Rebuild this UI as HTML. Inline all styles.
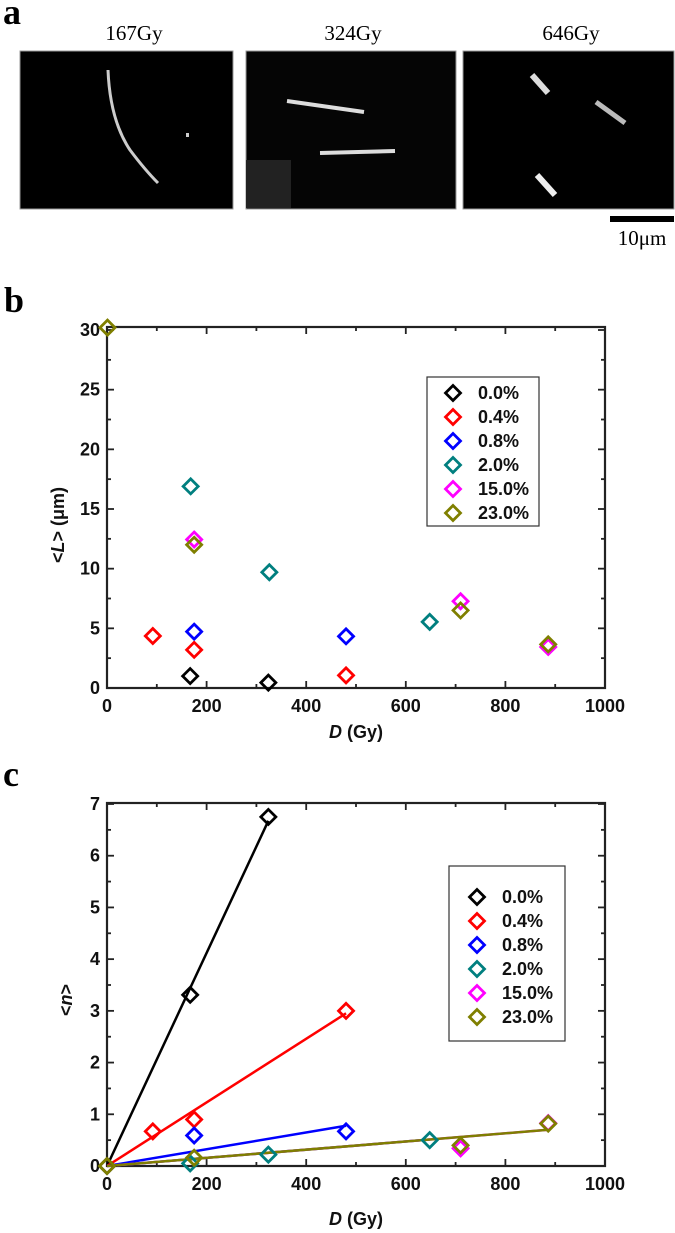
<!DOCTYPE html>
<html><head><meta charset="utf-8">
<style>
body{margin:0;background:#fff;width:675px;height:1233px;overflow:hidden}
svg{display:block}
.tl{font-family:"Liberation Sans",sans-serif;font-weight:bold;font-size:18px;fill:#111}
.lg{font-family:"Liberation Sans",sans-serif;font-weight:bold;font-size:18px;fill:#111}
.pl{font-family:"Liberation Serif",serif;font-weight:bold;font-size:36px;fill:#000}
.im{font-family:"Liberation Serif",serif;font-size:21px;fill:#000}
</style></head>
<body>
<svg id="fig" width="675" height="1233" xmlns="http://www.w3.org/2000/svg">
<text class="pl" x="3" y="24">a</text>
<text class="im" x="134" y="40" text-anchor="middle">167Gy</text>
<text class="im" x="353" y="40" text-anchor="middle">324Gy</text>
<text class="im" x="571" y="40" text-anchor="middle">646Gy</text>
<g>
<rect x="20" y="51" width="213" height="158" fill="#000" stroke="#999"/>
<path d="M108,70 Q110,120 130,150 Q145,170 158,183" stroke="#ccc" stroke-width="3" fill="none"/>
<rect x="186" y="133" width="3" height="4" fill="#ccc"/>
</g>
<g>
<rect x="246" y="51" width="210" height="158" fill="#050505" stroke="#999"/>
<path d="M287,101 L364,112" stroke="#ddd" stroke-width="4"/>
<path d="M320,153 L395,151" stroke="#ddd" stroke-width="4"/>
<rect x="246" y="160" width="45" height="48" fill="#222"/>
</g>
<g>
<rect x="463" y="51" width="211" height="158" fill="#000" stroke="#999"/>
<path d="M532,75 L548,93" stroke="#ddd" stroke-width="6"/>
<path d="M596,102 L625,123" stroke="#bbb" stroke-width="5"/>
<path d="M537,175 L555,195" stroke="#eee" stroke-width="6"/>
</g>
<rect x="610" y="216" width="64" height="6" fill="#000"/>
<text class="im" x="642" y="245" text-anchor="middle">10μm</text>

<text class="pl" x="4" y="312">b</text>
<text class="pl" x="3" y="786">c</text>
<g id="pb"></g>
<g id="pc"></g>
</svg>
<script>
const seriesNames=["0.0%","0.4%","0.8%","2.0%","15.0%","23.0%"];
const colors=["#000000","#ff0000","#0000ff","#007f7f","#ff00ff","#7f7f00"];
const xTicks=[0,200,400,600,800,1000];
const bYTicks=[0,5,10,15,20,25,30];
const cYTicks=[0,1,2,3,4,5,6,7];
// panel b: <L> vs D
const bX0=[167,324];            const bY0=[1.0,0.45];
const bX1=[92,175,480];         const bY1=[4.36,3.2,1.06];
const bX2=[175,480];            const bY2=[4.72,4.33];
const bX3=[168,326,648];        const bY3=[16.9,9.7,5.54];
const bX4=[175,710,886];        const bY4=[12.44,7.27,3.44];
const bX5=[1,175,710,886];      const bY5=[30.2,12.0,6.5,3.66];
// panel c: <n> vs D
const cX0=[0,167,324];          const cY0=[0,3.31,6.75];
const cX1=[92,175,480];         const cY1=[0.67,0.9,3.0];
const cX2=[175,480];            const cY2=[0.59,0.67];
const cX3=[167,324,648];        const cY3=[0.05,0.22,0.5];
const cX4=[710,886];            const cY4=[0.34,0.83];
const cX5=[0,175,710,886];      const cY5=[0,0.16,0.4,0.82];
// fitted slopes (per Gy) and fit end doses
const cSlopes=[0.0206,0.00615,0.00162,0.00079,0.00079,0.00079];
const cFitEnd=[324,480,480,648,886,886];

const NS="http://www.w3.org/2000/svg";
function mk(tag,attrs,parent){const e=document.createElementNS(NS,tag);for(const k in attrs)e.setAttribute(k,attrs[k]);parent.appendChild(e);return e;}

function drawPanel(g,cfg){
  const sx=v=>cfg.x0+(v-0)/1000*(cfg.x1-cfg.x0);
  const sy=v=>cfg.y0-(v-0)/cfg.ymax*(cfg.y0-cfg.yTop);
  const frame=mk('rect',{x:cfg.x0,y:cfg.frameTop,width:cfg.x1-cfg.x0,height:cfg.y0-cfg.frameTop,fill:'none',stroke:'#222','stroke-width':2.2},g);
  
  
  for(let v=0;v<=1000;v+=100){
    const major=v%200===0,L=major?7:4,x=sx(v);
    mk('line',{x1:x,y1:cfg.y0,x2:x,y2:cfg.y0-L,stroke:'#222','stroke-width':1.8},g);
    mk('line',{x1:x,y1:cfg.frameTop,x2:x,y2:cfg.frameTop+L,stroke:'#222','stroke-width':1.8},g);
  }
  xTicks.forEach(v=>{
    const t=mk('text',{x:sx(v),y:cfg.y0+24,'text-anchor':'middle',class:'tl'},g);t.textContent=v;
    
    
  });
  for(let v=0;v<=cfg.ymax+1e-9;v+=cfg.minor){
    const major=Math.abs(v/cfg.major-Math.round(v/cfg.major))<1e-6,L=major?7:4,y=sy(v);
    mk('line',{x1:cfg.x0,y1:y,x2:cfg.x0+L,y2:y,stroke:'#222','stroke-width':1.8},g);
    mk('line',{x1:cfg.x1,y1:y,x2:cfg.x1-L,y2:y,stroke:'#222','stroke-width':1.8},g);
  }
  cfg.yTicks.forEach(v=>{
    const t=mk('text',{x:cfg.x0-7,y:sy(v)+6,'text-anchor':'end',class:'tl'},g);t.textContent=v;
    
    
  });
  const xt=mk('text',{x:(cfg.x0+cfg.x1)/2,y:cfg.xTitleY,'text-anchor':'middle',class:'tl','font-size':'20'},g);
  xt.innerHTML='<tspan font-style="italic">D</tspan> (Gy)';
  
  
  const yt=mk('text',{x:0,y:0,'text-anchor':'middle',class:'tl','font-size':cfg.yTitleSize,transform:`translate(${cfg.yTitleX},${cfg.yTitleY}) rotate(-90)`},g);
  yt.innerHTML=cfg.yTitle;
  
  
  if(cfg.slopes){
    cfg.slopes.forEach((s,i)=>{
      const l=mk('line',{x1:sx(0),y1:sy(0),x2:sx(cfg.fitEnd[i]),y2:sy(s*cfg.fitEnd[i]),stroke:colors[i],'stroke-width':2.5},g);
      
      
    });
  }
  const d=7.5;
  cfg.xs.forEach((xs,i)=>{
    xs.forEach((xv,j)=>{
      const x=sx(xv),y=sy(cfg.ys[i][j]);
      const p=mk('path',{d:`M${x},${y-d}L${x+d},${y}L${x},${y+d}L${x-d},${y}Z`,fill:'none',stroke:colors[i],'stroke-width':2.8},g);
      
      
    });
  });
  const lg=mk('g',{},g);
  
  
  mk('rect',{x:cfg.lx,y:cfg.ly,width:cfg.lw,height:cfg.lh,fill:'#fff',stroke:'#333','stroke-width':1.2},lg);
  seriesNames.forEach((n,i)=>{
    const y=cfg.ly+cfg.lfirst+i*24, x=cfg.lx+cfg.lmark;
    const e=mk('g',{},lg);
    
    
    mk('path',{d:`M${x},${y-d}L${x+d},${y}L${x},${y+d}L${x-d},${y}Z`,fill:'none',stroke:colors[i],'stroke-width':2.8},e);
    const t=mk('text',{x:x+25,y:y+6,class:'lg'},e);t.textContent=n;
  });
}
drawPanel(document.getElementById('pb'),{x0:107,x1:605,y0:688,yTop:330,frameTop:327,ymax:30,major:5,minor:2.5,yTicks:bYTicks,
  xTitleY:738,yTitle:'&lt;<tspan font-style="italic">L</tspan>&gt; (μm)',yTitleSize:22,yTitleX:64,yTitleY:525,
  xs:[bX0,bX1,bX2,bX3,bX4,bX5],ys:[bY0,bY1,bY2,bY3,bY4,bY5],lx:427,ly:377,lw:112,lh:149,lfirst:16,lmark:26});
drawPanel(document.getElementById('pc'),{x0:107,x1:605,y0:1166,yTop:804,frameTop:803,ymax:7,major:1,minor:0.5,yTicks:cYTicks,
  xTitleY:1225,yTitle:'&lt;<tspan font-style="italic">n</tspan>&gt;',yTitleSize:26,yTitleX:72,yTitleY:1000,
  xs:[cX0,cX1,cX2,cX3,cX4,cX5],ys:[cY0,cY1,cY2,cY3,cY4,cY5],slopes:cSlopes,fitEnd:cFitEnd,
  lx:449,ly:866,lw:116,lh:175,lfirst:31,lmark:28});
</script>
</body></html>
